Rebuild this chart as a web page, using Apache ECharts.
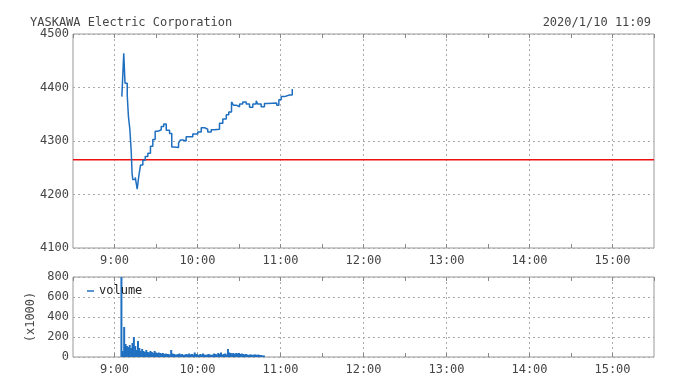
<!DOCTYPE html>
<html><head><meta charset="utf-8">
<script src="https://cdn.jsdelivr.net/npm/echarts@6/dist/echarts.min.js"></script>
<style>html,body{margin:0;padding:0;background:#fff}#c{width:680px;height:377px}</style>
</head><body><div id="c"></div>
<script>
const chartTitle = 'YASKAWA Electric Corporation';
const stamp = '2020/1/10 11:09';
// times in minutes since midnight
const priceTimes = [545.3,546.7,547.6,549.2,550.1,551.1,552.1,552.7,553.2,555.0,556.4,557.6,558.8,560.5,562.2,564.1,566.0,567.7,569.4,571.3,573.8,575.6,577.4,579.8,581.4,582.9,586.3,587.7,589.4,591.8,594.2,596.6,600.2,602.7,605.1,607.4,609.9,612.3,615.9,618.3,620.8,622.6,624.6,626.0,628.0,630.4,632.7,635.2,637.6,640.0,642.4,643.6,646.0,648.4,650.8,657.3,658.8,660.5,662.9,666.5,668.5,669.0];
const prices = [4383,4464,4408,4386,4345,4322,4280,4240,4228,4232,4210,4235,4255,4264,4271,4277,4290,4303,4318,4321,4327,4332,4320,4314,4289,4288,4296,4302,4300,4308,4308,4313,4317,4325,4322,4317,4321,4322,4333,4341,4349,4354,4373,4367,4364,4369,4373,4369,4363,4369,4375,4369,4364,4370,4371,4367,4377,4383,4386,4386,4397,4397];
const prevClose = 4265;
const volStart = 545;
const volumes = [850,60,300,130,110,100,120,90,140,200,110,70,160,90,60,80,60,50,70,50,45,60,50,40,60,45,40,45,40,35,40,30,35,30,30,25,70,35,30,25,
25,30,35,25,30,20,25,30,25,35,25,30,25,45,30,25,20,30,25,35,25,20,25,30,25,20,25,35,30,25,40,30,45,25,30,35,25,80,45,40,35,40,30,40,35,40,30,35,30,25,30,25,20,25,25,20,25,25,20,25,20,20,15,15];
const priceTicks = [4100,4500,100];
const volTicks = [0,800,200];
const sessionRange = [510,930];

const priceData = priceTimes.map((t,i)=>[t,prices[i]]);
const volData = volumes.map((v,i)=>[volStart+i,v]);
const closeData = [[sessionRange[0],prevClose],[sessionRange[1],prevClose]];
const font = 'DejaVu Sans Mono';
const txt = '#444';
function hm(v){ if(v%60!==0) return ''; const h=Math.floor(v/60), m=v%60; return h+':'+(m<10?'0':'')+m; }
function xAx(gi, top){
  return {type:'value', gridIndex:gi, min:sessionRange[0], max:sessionRange[1], interval:30,
    position: top?'top':'bottom',
    axisLine:{show:false},
    axisTick:{show:true, inside:true, length:4, lineStyle:{color:'#888'}},
    axisLabel:{show:!top, formatter:hm, color:txt, fontFamily:font, fontSize:12, margin:7, showMinLabel:false, showMaxLabel:false},
    splitLine:{show:!top, lineStyle:{color:['rgba(0,0,0,0)','#aaa'], type:[2,3], width:1}}
  };
}
const chart = echarts.init(document.getElementById('c'));
chart.setOption({
  animation:false,
  backgroundColor:'#fff',
  title:[
    {text:chartTitle, left:25, top:12, textStyle:{fontFamily:font, fontSize:12, fontWeight:'normal', color:txt}},
    {text:stamp, right:24, top:12, textStyle:{fontFamily:font, fontSize:12, fontWeight:'normal', color:txt}}
  ],
  legend:{data:['volume'], left:82, top:280, icon:'rect', itemWidth:7, itemHeight:1.5, itemGap:4,
    textStyle:{fontFamily:font, fontSize:12, color:'#222'}},
  grid:[
    {left:73, right:26, top:34, height:214, show:true, borderColor:'#999', borderWidth:1, backgroundColor:'#fff'},
    {left:73, right:26, top:277, height:80, show:true, borderColor:'#999', borderWidth:1, backgroundColor:'#fff'}
  ],
  xAxis:[xAx(0,false), xAx(0,true), xAx(1,false), xAx(1,true)],
  yAxis:[
    {type:'value', gridIndex:0, min:priceTicks[0], max:priceTicks[1], interval:priceTicks[2],
      axisLine:{show:false}, axisTick:{show:false},
      axisLabel:{color:txt, fontFamily:font, fontSize:12, margin:4, formatter:v=>String(v)},
      splitLine:{show:true, lineStyle:{color:'#aaa', type:[2,3]}}},
    {type:'value', gridIndex:1, min:volTicks[0], max:volTicks[1], interval:volTicks[2],
      name:'(x1000)', nameLocation:'middle', nameGap:26, nameRotate:90,
      nameTextStyle:{color:txt, fontFamily:font, fontSize:12},
      axisLine:{show:false}, axisTick:{show:false},
      axisLabel:{color:txt, fontFamily:font, fontSize:12, margin:4, formatter:v=>String(v)},
      splitLine:{show:true, lineStyle:{color:'#aaa', type:[2,3]}}}
  ],
  series:[
    {name:'prevClose', type:'line', xAxisIndex:0, yAxisIndex:0, data:closeData, symbol:'none', silent:true,
      lineStyle:{color:'#ee1111', width:1.3}, itemStyle:{color:'#ee1111'}, z:1},
    {name:'price', type:'line', xAxisIndex:0, yAxisIndex:0, data:priceData, step:'end', symbol:'none',
      lineStyle:{color:'#1f6fc1', width:1.5}, itemStyle:{color:'#1f6fc1'}, z:3},
    {name:'volume', type:'bar', xAxisIndex:2, yAxisIndex:1, data:volData, barWidth:2, barGap:'0%',
      itemStyle:{color:'#1f6fc1'}, clip:true}
  ]
});
</script></body></html>
